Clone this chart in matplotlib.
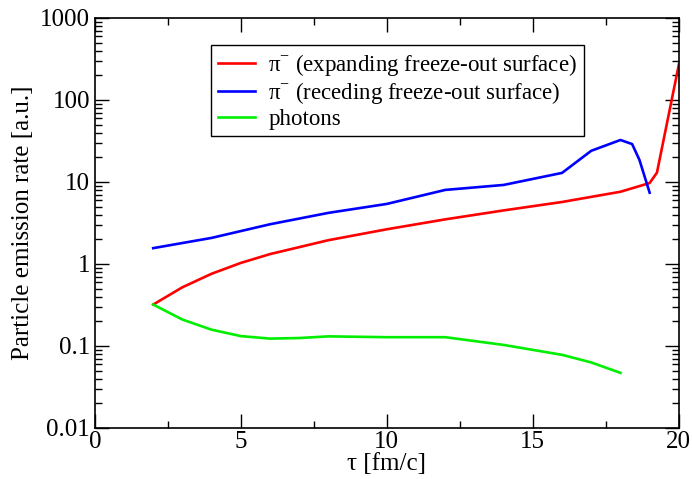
import matplotlib.pyplot as plt
from matplotlib.ticker import FixedLocator, FuncFormatter, LogLocator, NullFormatter, MultipleLocator

plt.rcParams['font.family'] = ['Liberation Serif', 'DejaVu Serif']
plt.rcParams['mathtext.fontset'] = 'custom'
plt.rcParams['mathtext.rm'] = 'Liberation Serif'

# expanding freeze-out surface
tau_exp = [2, 3, 4, 5, 6, 8, 10, 12, 14, 16, 18, 19, 19.25, 20]
rate_exp = [0.32, 0.52, 0.76, 1.03, 1.32, 1.95, 2.65, 3.5, 4.5, 5.7, 7.6, 9.7, 13, 270]

# receding freeze-out surface
tau_rec = [2, 4, 6, 8, 10, 12, 14, 16, 17, 18, 18.4, 18.65, 19]
rate_rec = [1.56, 2.08, 3.05, 4.2, 5.4, 8.0, 9.2, 12.9, 24, 32.5, 29, 18.6, 7.4]

# photons
tau_ph = [2, 3, 4, 5, 6, 7, 8, 10, 12, 14, 16, 17, 18]
rate_ph = [0.32, 0.21, 0.158, 0.132, 0.123, 0.125, 0.131, 0.128, 0.128, 0.103, 0.078, 0.063, 0.047]

fig = plt.figure(figsize=(6.92, 4.79), dpi=100)
ax = fig.add_axes([0.137, 0.1065, 0.844, 0.856])

lw = 1.9
ax.plot(tau_exp, rate_exp, color='#ff0000', lw=lw, label=r'π$^{\mathrm{-}}$ (expanding freeze-out surface)')
ax.plot(tau_rec, rate_rec, color='#0000ff', lw=lw, label=r'π$^{\mathrm{-}}$ (receding freeze-out surface)')
ax.plot(tau_ph, rate_ph, color='#00ee00', lw=lw, label='photons')

ax.set_yscale('log')
ax.set_xlim(0, 20)
ax.set_ylim(0.01, 1000)

ax.xaxis.set_major_locator(MultipleLocator(5))
ax.xaxis.set_minor_locator(MultipleLocator(2.5))
ax.yaxis.set_major_locator(FixedLocator([0.01, 0.1, 1, 10, 100, 1000]))
ax.yaxis.set_minor_locator(LogLocator(base=10, subs=range(2, 10)))
ax.yaxis.set_minor_formatter(NullFormatter())
ax.yaxis.set_major_formatter(FuncFormatter(lambda v, p: f'{v:g}'))

ax.tick_params(which='both', direction='in', top=True, right=True, labelsize=18)
ax.tick_params(axis='x', which='major', pad=2)
ax.tick_params(which='major', length=10, width=1)
ax.tick_params(which='minor', length=5, width=1)
for s in ax.spines.values():
    s.set_linewidth(1.2)

ax.set_xlabel('τ [fm/c]', fontsize=18, labelpad=0)
ax.set_ylabel('Particle emission rate [a.u.]', fontsize=18, labelpad=4)

leg = ax.legend(loc='upper left', bbox_to_anchor=(0.199, 0.934), borderaxespad=0,
                fontsize=16.5, handlelength=1.6, fancybox=False, framealpha=1,
                edgecolor='black', labelspacing=0.1, borderpad=0.3, handletextpad=0.6)
leg.get_frame().set_linewidth(1)

fig.savefig('out.png', dpi=100)
